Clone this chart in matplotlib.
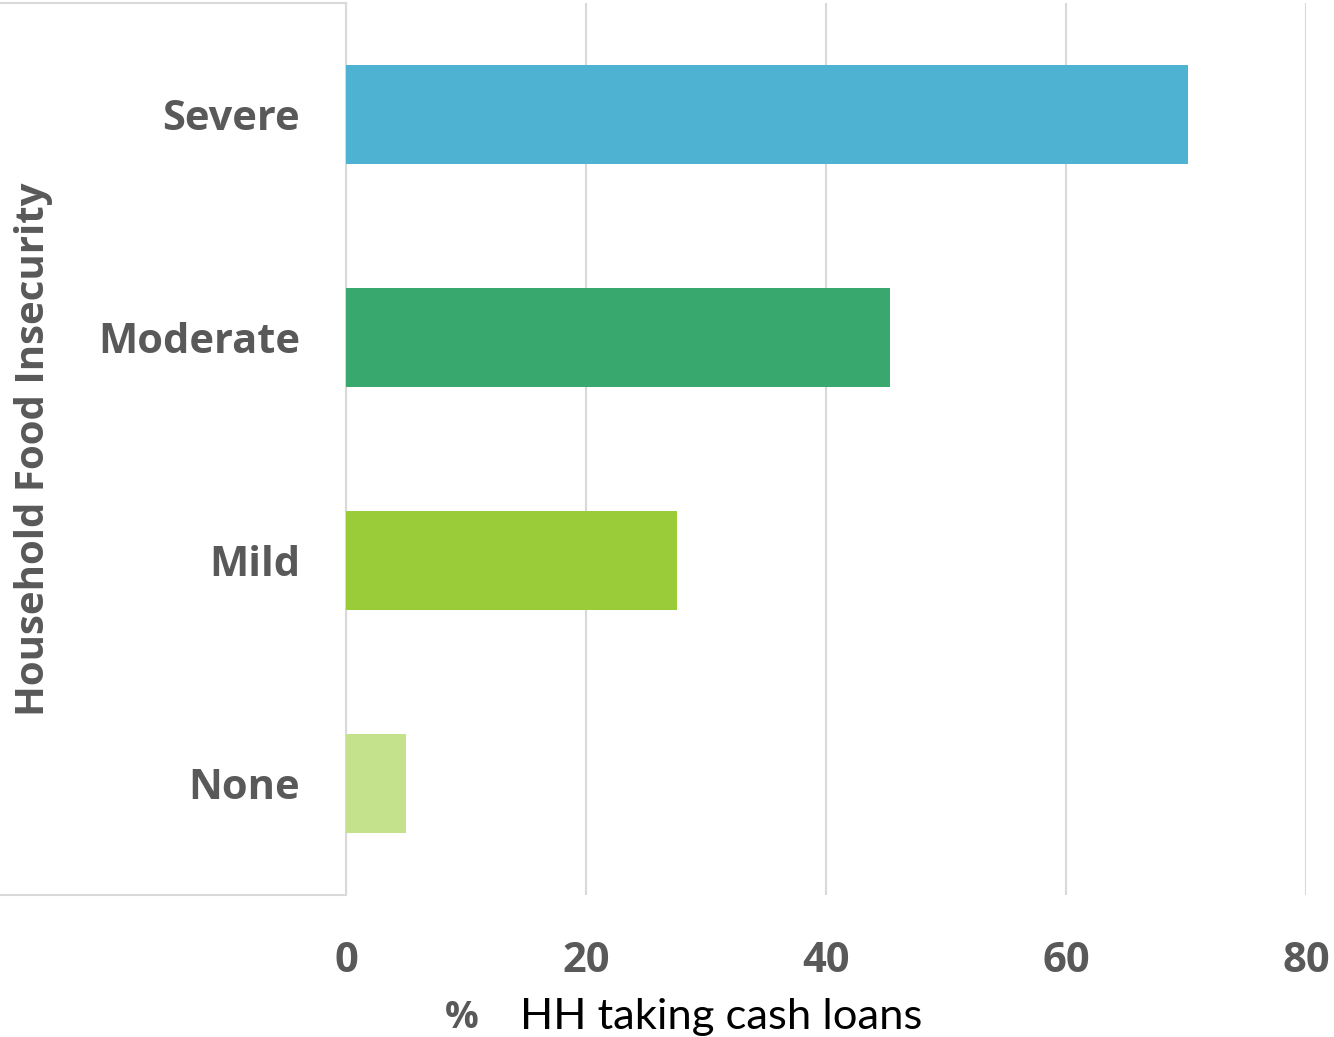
import matplotlib
matplotlib.use("Agg")
import matplotlib.pyplot as plt
from matplotlib.lines import Line2D

categories = ["None", "Mild", "Moderate", "Severe"]
values = [5.0, 27.6, 45.3, 70.2]
colors = ["#C4E28C", "#9ACB39", "#38A86E", "#4EB3D3"]
xticks = [0, 20, 40, 60, 80]

W, H = 1334, 1037
fig = plt.figure(figsize=(W / 100, H / 100), dpi=100)
left, right, bottom, top = 346 / W, 1306 / W, 1 - 895 / H, 1 - 3 / H
ax = fig.add_axes([left, bottom, right - left, top - bottom])

ax.barh(categories, values, height=0.44, color=colors, zorder=3)
ax.set_xlim(0, 80)
ax.set_ylim(-0.5, 3.5)
ax.set_xticks(xticks)
ax.grid(axis="x", color="#D9D9D9", linewidth=1.5, zorder=0)
for s in ["top", "right", "bottom"]:
    ax.spines[s].set_visible(False)
ax.spines["left"].set_color("#D9D9D9")
ax.spines["left"].set_linewidth(1.5)
ax.tick_params(axis="both", length=0)
ax.tick_params(axis="x", pad=33)
ax.tick_params(axis="y", pad=33)
for lab in ax.get_xticklabels() + ax.get_yticklabels():
    lab.set_fontfamily("Open Sans")
    lab.set_fontweight("bold")
    lab.set_fontsize(30)
    lab.set_color("#595959")

ax.set_ylabel("Household Food Insecurity", fontfamily="Open Sans", fontweight="bold",
              fontsize=29, color="#595959")
ax.yaxis.set_label_coords(-0.305, 0.5)

# left frame box
fig.add_artist(Line2D([0, left], [top, top], transform=fig.transFigure, color="#D9D9D9", lw=1.5))
fig.add_artist(Line2D([0, left], [bottom, bottom], transform=fig.transFigure, color="#D9D9D9", lw=1.5))

fig.text(445 / W, 9 / H, "%", fontfamily="Open Sans", fontweight="bold", fontsize=27,
         color="#595959", ha="left", va="baseline")
fig.text(520 / W, 8 / H, "HH taking cash loans", fontfamily="Lato", fontsize=31.3,
         color="#000000", ha="left", va="baseline")

fig.savefig("out.png", dpi=100)
